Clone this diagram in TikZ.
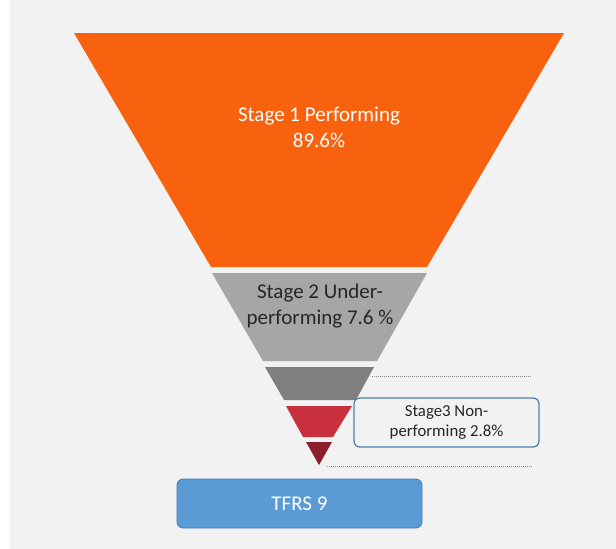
\documentclass[tikz,border=0pt]{standalone}
\usepackage{fontspec}
\setmainfont{Carlito}
\definecolor{bggray}{HTML}{F2F2F2}
\definecolor{stageone}{HTML}{F8620E}
\definecolor{stagetwo}{HTML}{A6A6A6}
\definecolor{stagemid}{HTML}{7F7F7F}
\definecolor{stagethree}{HTML}{C9303E}
\definecolor{stagelast}{HTML}{8B1E2A}
\definecolor{boxblue}{HTML}{5B9BD5}
\definecolor{boxedge}{HTML}{4A7FB5}
\definecolor{txtdark}{HTML}{262626}
\tikzset{
    bandlabel/.style={align=center,font=\fontsize{21}{26}\selectfont},
    callout/.style={draw=boxedge,line width=1.2pt,fill=bggray,rounded corners=6pt,
        minimum width=185pt,minimum height=49pt,align=center,text=txtdark,
        font=\fontsize{16.8}{20}\selectfont},
    basebox/.style={draw=boxedge,line width=0.8pt,fill=boxblue,rounded corners=6pt,
        minimum width=245pt,minimum height=49pt,text=white,
        font=\fontsize{21}{26}\selectfont},
    guide/.style={draw=gray!90,line width=0.7pt,dash pattern=on 1pt off 1pt}
}
\begin{document}
\begin{tikzpicture}[x=1pt,y=-1pt]
    \useasboundingbox (0,0) rectangle (616,549);
    \fill[white] (0,0) rectangle (616,549);
    \fill[bggray] (10,0) rectangle (616,549);

    % funnel bands
    \fill[stageone] (74,33) -- (564,33) -- (427,267) -- (211,267) -- cycle;
    \fill[stagetwo] (212,273) -- (427,273) -- (377,361) -- (263,361) -- cycle;
    \fill[stagemid] (265,367) -- (374,367) -- (356,400) -- (284,400) -- cycle;
    \fill[stagethree] (286,406) -- (352,406) -- (333,437) -- (303,437) -- cycle;
    \fill[stagelast] (306,442) -- (332,442) -- (319,465) -- cycle;

    \node[bandlabel,text=white] (one) at (319,127) {Stage 1 Performing\\89.6\%};
    \node[bandlabel,text=txtdark] (two) at (320,306) {Stage 2 Under-\\performing 7.6 \%};

    % guide lines
    \coordinate (gA) at (372,376);
    \coordinate (gB) at (532,376);
    \coordinate (gC) at (327,466);
    \coordinate (gD) at (532,466);
    \draw[guide] (gA) -- (gB);
    \draw[guide] (gC) -- (gD);

    \node[callout] (three) at (446.5,422.5) {Stage3 Non-\\performing 2.8\%};
    \node[basebox] (tfrs) at (299.5,503.5) {TFRS 9};
\end{tikzpicture}
\end{document}
